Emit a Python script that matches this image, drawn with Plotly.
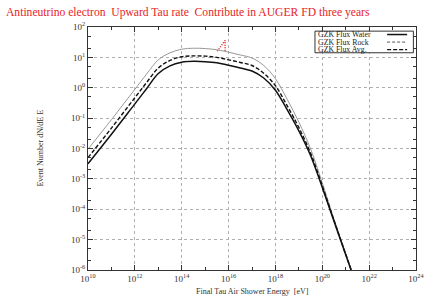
import plotly.graph_objects as go

# ---------------- data ----------------
energy_eV = [1e10, 1e11, 1e12, 3.16e12, 1e13, 3.16e13, 1e14, 3.16e14, 1e15, 3.16e15,
             1e16, 3.16e16, 1e17, 3.16e17, 1e18, 3.16e18, 1e19, 3.16e19, 1e20, 3.16e20,
             1e21, 3.16e21]
water = [3.16e-3, 2.95e-2, 0.295, 0.93, 2.95, 5.25, 6.9, 7.4, 7.2, 6.6,
         5.5, 4.5, 3.55, 2.09, 0.83, 0.19, 0.038, 5.9e-3, 5.2e-4, 4.0e-5,
         3.2e-6, 2.5e-7]
avg = [5.0e-3, 4.7e-2, 0.47, 1.48, 4.47, 7.9, 10.5, 11.2, 11.0, 10.0,
       8.3, 6.8, 5.4, 3.0, 1.17, 0.257, 0.049, 7.1e-3, 5.9e-4, 4.3e-5,
       3.3e-6, 2.6e-7]
rock = [9.5e-3, 8.9e-2, 0.89, 2.8, 8.3, 14.1, 18.6, 20.0, 19.5, 17.8,
        14.8, 12.0, 9.5, 5.4, 2.0, 0.42, 0.074, 9.8e-3, 7.4e-4, 4.8e-5,
        3.5e-6, 2.6e-7]
red_energy = [3.3e15, 7.1e15, 7.1e15]
red_rate = [16, 36, 16]

series_names = ["GZK Flux Water", "GZK Flux Rock", "GZK Flux Avg."]
x_tick_exps = [10, 12, 14, 16, 18, 20, 22, 24]
y_tick_exps = [2, 1, 0, -1, -2, -3, -4, -5, -6]

title_text = "Antineutrino electron  Upward Tau rate  Contribute in AUGER FD three years"
x_title = "Final Tau Air Shower Energy  [eV]"
y_title = "Event Number dN/dE E"

SERIF = "Liberation Serif, Times New Roman, serif"

fig = go.Figure()
fig.add_trace(go.Scatter(x=energy_eV, y=rock, mode="lines", name=series_names[1],
                         line=dict(color="#999999", width=1, shape="spline"), showlegend=False))
fig.add_trace(go.Scatter(x=energy_eV, y=avg, mode="lines", name=series_names[2],
                         line=dict(color="#111111", width=1.4, dash="4px,2px", shape="spline"),
                         showlegend=False))
fig.add_trace(go.Scatter(x=energy_eV, y=water, mode="lines", name=series_names[0],
                         line=dict(color="#111111", width=1.5, shape="spline"), showlegend=False))
fig.add_trace(go.Scatter(x=red_energy, y=red_rate, mode="lines", showlegend=False,
                         line=dict(color="#e02020", width=1.5, dash="1px,1.5px")))

axis_common = dict(
    type="log", showline=True, linecolor="#333333", linewidth=1, mirror="ticks",
    ticks="inside", ticklen=5, tickcolor="#333333", automargin=False,
    showgrid=True, gridcolor="#b0b0b0", griddash="dot", gridwidth=1,
    zeroline=False, tickfont=dict(family=SERIF, size=9, color="#333333"),
)

fig.update_xaxes(
    **axis_common,
    range=[10, 24],
    tickmode="array",
    tickvals=[10.0 ** e for e in x_tick_exps],
    ticktext=[f"10<sup>{e}</sup>" for e in x_tick_exps],
    minor=dict(ticks="inside", ticklen=3, tickcolor="#333333", showgrid=False,
               tickmode="array", tickvals=[10.0 ** e for e in range(11, 24, 2)]),
)
fig.update_yaxes(
    **axis_common,
    range=[-6, 2],
    tickmode="array",
    tickvals=[10.0 ** e for e in y_tick_exps],
    ticktext=[f"10<sup>{e}</sup>" for e in y_tick_exps],
    minor=dict(ticks="inside", ticklen=3, tickcolor="#333333", showgrid=False, dtick="D2"),
)

annotations = [
    dict(text=title_text, xref="paper", yref="paper", x=-0.256, y=1.0, yshift=15,
         xanchor="left", yanchor="middle", showarrow=False,
         font=dict(family=SERIF, size=11.6, color="#e8231f")),
    dict(text=x_title, xref="paper", yref="paper", x=0.5, y=-0.087, xanchor="center",
         yanchor="middle", showarrow=False, font=dict(family=SERIF, size=8, color="#333333")),
    dict(text=y_title, xref="paper", yref="paper", x=-0.146, y=0.5, xanchor="center",
         yanchor="middle", textangle=-90, showarrow=False,
         font=dict(family=SERIF, size=8, color="#333333")),
]

# manual gnuplot-style key: text left, line sample right
legend_rows = [0.969, 0.938, 0.907]
legend_styles = [dict(color="#111111", width=1.5, dash="solid"),
                 dict(color="#555555", width=1, dash="3px,2px"),
                 dict(color="#111111", width=1.4, dash="4px,2px")]
shapes = [dict(type="rect", xref="paper", yref="paper", x0=0.692, x1=0.992, y0=0.894, y1=0.983,
               line=dict(color="#333333", width=1), fillcolor="white", layer="above")]
for name, yy, st in zip(series_names, legend_rows, legend_styles):
    annotations.append(dict(text=name, xref="paper", yref="paper", x=0.695, y=yy,
                            xanchor="left", yanchor="middle", showarrow=False,
                            font=dict(family=SERIF, size=7.8, color="#222222")))
    shapes.append(dict(type="line", xref="paper", yref="paper", x0=0.912, x1=0.973, y0=yy, y1=yy,
                       line=st, layer="above"))

fig.update_layout(
    width=436, height=302,
    margin=dict(l=88, r=20, t=27, b=32, autoexpand=False),
    paper_bgcolor="white", plot_bgcolor="white",
    annotations=annotations, shapes=shapes, showlegend=False,
)

fig.write_html("out.html", config={"displayModeBar": False},
               post_script="document.body.style.margin='0';document.body.style.padding='0';")
